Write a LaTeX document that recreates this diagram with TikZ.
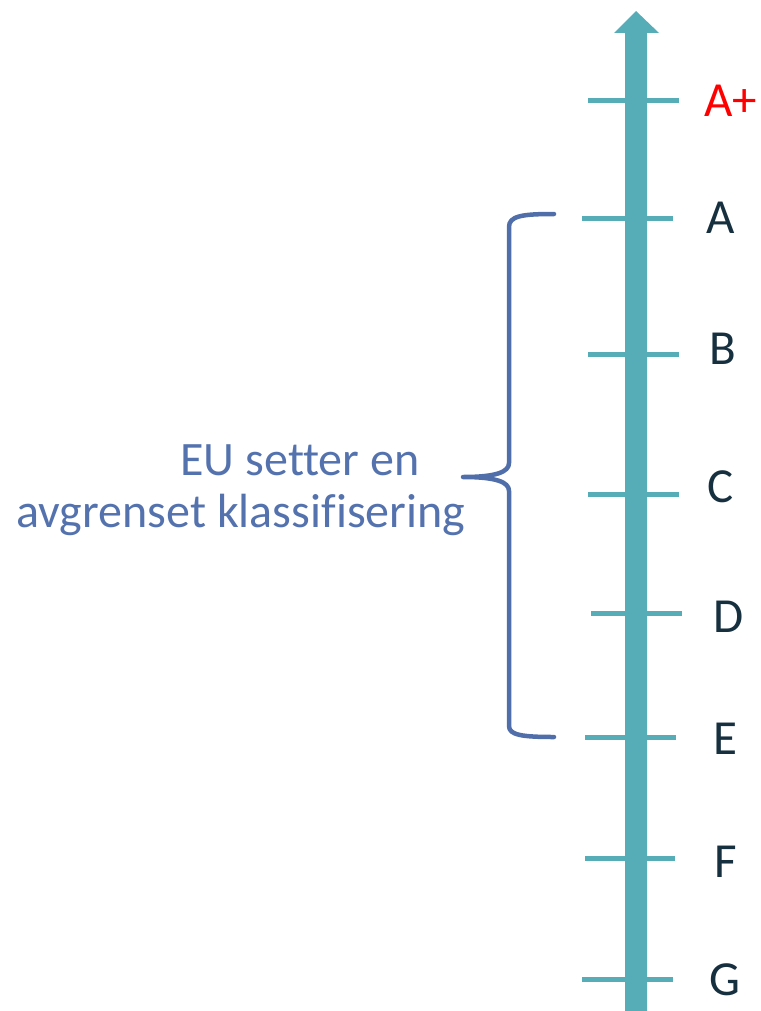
\documentclass[tikz,border=0pt]{standalone}
\usepackage{fontspec}
\setmainfont{Carlito}[Ligatures=NoCommon]
\definecolor{teal1}{HTML}{56ADB8}
\definecolor{dark1}{HTML}{163040}
\definecolor{blue1}{HTML}{5473AE}
\definecolor{brace1}{HTML}{4F6EAA}
\tikzset{
  tick/.style={draw=teal1, line width=5pt},
  lab/.style={anchor=base west, inner sep=0pt, text=dark1, font=\fontsize{49}{58}\selectfont},
  note/.style={anchor=base, inner sep=0pt, text=blue1, font=\fontsize{48}{57}\selectfont},
  bracestyle/.style={draw=brace1, line width=4.5pt, line cap=round, line join=round}
}
\begin{document}
\begin{tikzpicture}[x=1pt,y=-1pt]
\useasboundingbox (0,0) rectangle (760,1011);
% axis arrow
\fill[teal1] (625,1011) -- (625,33) -- (614,33) -- (636,11) -- (659,33) -- (647,33) -- (647,1011) -- cycle;
% ticks
\coordinate (tAp1) at (588,101); \coordinate (tAp2) at (679,101);
\coordinate (tA1) at (582,218); \coordinate (tA2) at (673,218);
\coordinate (tB1) at (588,354); \coordinate (tB2) at (679,354);
\coordinate (tC1) at (588,494); \coordinate (tC2) at (679,494);
\coordinate (tD1) at (591,613); \coordinate (tD2) at (682,613);
\coordinate (tE1) at (585,737); \coordinate (tE2) at (676,737);
\coordinate (tF1) at (585,858); \coordinate (tF2) at (675,858);
\coordinate (tG1) at (582,979); \coordinate (tG2) at (673,979);
\foreach \t in {Ap,A,B,C,D,E,F,G} \draw[tick] (t\t1) -- (t\t2);
% labels
\node[lab, text=red] (lAp) at (704,117) {A+};
\node[lab] (lA) at (706,233) {A};
\node[lab] (lB) at (709,364) {B};
\node[lab] (lC) at (707,502) {C};
\node[lab] (lD) at (713,632) {D};
\node[lab] (lE) at (713,754) {E};
\node[lab] (lF) at (714,877) {F};
\node[lab] (lG) at (709,995) {G};
% brace
\coordinate (bTop) at (554,214);
\coordinate (bTip) at (463,477);
\coordinate (bBot) at (554,737);
\draw[bracestyle] (bTop) .. controls (522,214) and (509,216) .. (509,227)
  -- (509,463) .. controls (509,472) and (496,477) .. (bTip)
  .. controls (496,477) and (509,482) .. (509,491)
  -- (509,726) .. controls (509,735) and (522,737) .. (bBot);
% note text
\node[note] (n1) at (300,475) {EU setter en};
\node[note] (n2) at (241,527) {avgrenset klassifisering};
\end{tikzpicture}
\end{document}
